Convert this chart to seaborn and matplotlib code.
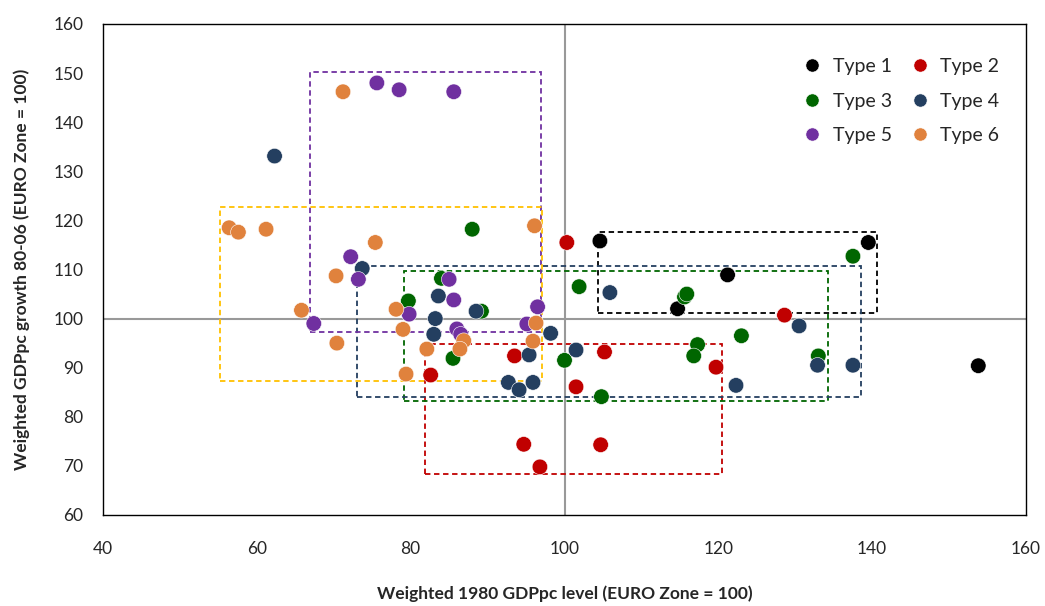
import pandas as pd
import seaborn as sns
import matplotlib.pyplot as plt
from matplotlib.patches import Rectangle

# values
type_names = ["Type 1", "Type 2", "Type 3", "Type 4", "Type 5", "Type 6"]
colors = ["#000000", "#C00000", "#006600", "#243F60", "#7030A0", "#E0823D"]
box_colors = ["#000000", "#C00000", "#006600", "#243F60", "#7030A0", "#FFC000"]

t1_x = [104.6, 139.5, 121.2, 114.7, 153.8]
t1_y = [115.8, 115.5, 108.9, 102.0, 90.4]

t2_x = [100.3, 128.6, 105.2, 119.7, 101.5, 93.5, 82.6, 94.7, 104.7, 96.8]
t2_y = [115.5, 100.7, 93.2, 90.1, 86.1, 92.4, 88.5, 74.4, 74.3, 69.8]

t3_x = [88.0, 137.5, 101.9, 115.6, 115.9, 123.0, 117.3, 116.8, 133.0, 100.0, 104.8, 84.0, 79.7, 89.2, 85.5]
t3_y = [118.2, 112.7, 106.5, 104.4, 105.0, 96.5, 94.7, 92.4, 92.4, 91.5, 84.1, 108.2, 103.6, 101.5, 91.9]

t4_x = [62.3, 73.7, 83.6, 83.2, 88.5, 83.0, 98.2, 95.4, 101.5, 92.7, 94.1, 95.9, 105.9, 130.5, 122.3, 132.9, 137.5]
t4_y = [133.1, 110.2, 104.6, 100.0, 101.5, 96.8, 97.0, 92.6, 93.6, 87.0, 85.5, 87.0, 105.3, 98.5, 86.4, 90.5, 90.5]

t5_x = [75.6, 78.5, 85.6, 72.2, 73.2, 85.0, 85.6, 79.8, 67.4, 86.0, 86.5, 96.5, 95.1]
t5_y = [148.0, 146.6, 146.2, 112.6, 108.0, 108.0, 103.8, 100.9, 99.0, 97.9, 96.8, 102.4, 98.9]

t6_x = [71.2, 56.4, 57.6, 61.2, 75.4, 96.1, 70.3, 65.8, 78.1, 79.0, 70.4, 86.9, 86.4, 82.1, 79.4, 95.9, 96.3]
t6_y = [146.2, 118.5, 117.6, 118.2, 115.5, 118.9, 108.7, 101.7, 101.9, 97.8, 95.0, 95.5, 93.8, 93.8, 88.7, 95.4, 99.1]

# dashed group boxes (x0, x1, y0, y1) per type
box_x0 = [104.3, 81.8, 79.1, 73.0, 66.9, 55.2]
box_x1 = [140.6, 120.5, 134.3, 138.6, 96.9, 97.1]
box_y0 = [101.2, 68.4, 83.3, 84.0, 97.3, 87.2]
box_y1 = [117.7, 94.9, 109.7, 110.8, 150.2, 122.8]

xs = [t1_x, t2_x, t3_x, t4_x, t5_x, t6_x]
ys = [t1_y, t2_y, t3_y, t4_y, t5_y, t6_y]
df = pd.concat(
    [pd.DataFrame({"x": x, "y": y, "type": name}) for name, x, y in zip(type_names, xs, ys)],
    ignore_index=True,
)

sns.set_theme(style="white")
plt.rcParams["font.family"] = ["Lato", "DejaVu Sans"]

fig = plt.figure(figsize=(10.45, 6.06), dpi=100)
ax = fig.add_axes([0.0986, 0.1502, 0.8832, 0.8102])

ax.axhline(100, color="#999999", lw=1.5, zorder=1)
ax.axvline(100, color="#999999", lw=1.5, zorder=1)

for x0, x1, y0, y1, c in zip(box_x0, box_x1, box_y0, box_y1, box_colors):
    ax.add_patch(Rectangle((x0, y0), x1 - x0, y1 - y0, fill=False, ec=c,
                           ls=(0, (3, 2)), lw=1.3, zorder=2))

sns.scatterplot(data=df, x="x", y="y", hue="type", hue_order=type_names,
                palette=colors, s=125, edgecolor="white", linewidth=0.4,
                ax=ax, zorder=3)

ax.set_xlim(40, 160)
ax.set_ylim(60, 160)
ax.set_xticks(range(40, 161, 20))
ax.set_yticks(range(60, 161, 10))
ax.tick_params(axis="x", length=0, pad=19, labelsize=12.5)
ax.tick_params(axis="y", length=0, pad=14, labelsize=12.5)
for s in ax.spines.values():
    s.set_color("black")
    s.set_linewidth(1)

ax.set_xlabel("Weighted 1980 GDPpc level (EURO Zone = 100)", fontsize=12.5,
              fontweight="bold", labelpad=20)
ax.set_ylabel("Weighted GDPpc growth 80-06 (EURO Zone = 100)", fontsize=12.5,
              fontweight="bold", labelpad=17)

# legend filled row by row: Type 1 | Type 2, Type 3 | Type 4, ...
handles, labels = ax.get_legend_handles_labels()
order = [0, 2, 4, 1, 3, 5]
ax.legend([handles[i] for i in order], [labels[i] for i in order], ncol=2,
          frameon=False, fontsize=14, loc="upper right",
          bbox_to_anchor=(0.99, 0.966), handletextpad=0.05, columnspacing=0.45,
          labelspacing=0.9, markerscale=0.85)

fig.savefig("out.png", dpi=100)
